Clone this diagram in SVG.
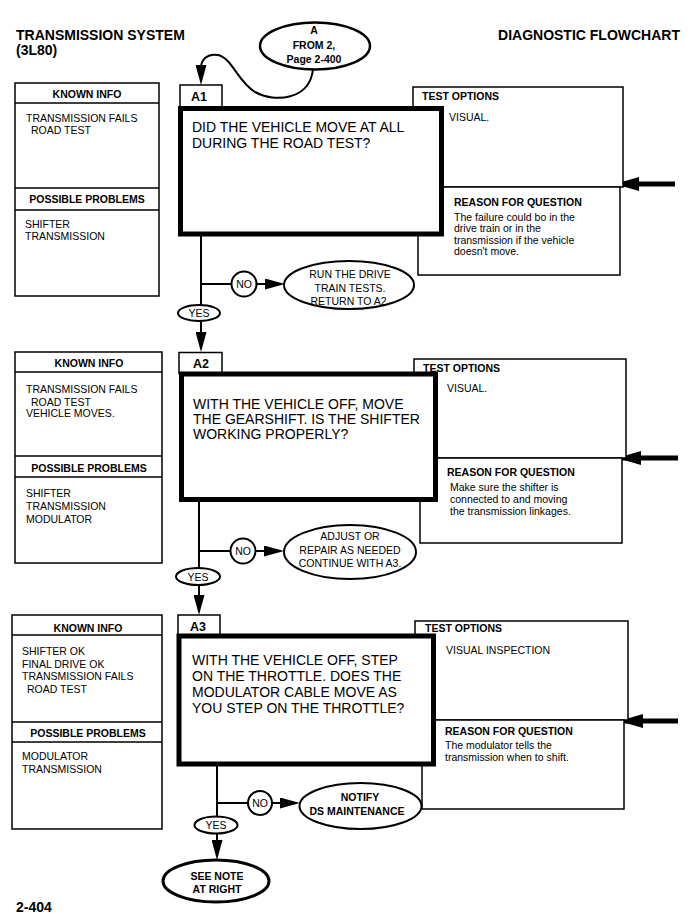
<svg xmlns="http://www.w3.org/2000/svg" width="696" height="916" viewBox="0 0 696 916">
<style>
text{font-family:"Liberation Sans",Arial,Helvetica,sans-serif;font-size:10.5px;fill:#000}
.b{font-weight:bold}
.c{text-anchor:middle}
.h{font-size:14px;font-weight:bold}
.q{font-size:14px}
.tl{font-size:12.5px;font-weight:bold}
.box{fill:#fff;stroke:#000;stroke-width:1.5}
.qbox{fill:#fff;stroke:#000;stroke-width:5}
.ln{fill:none;stroke:#000;stroke-width:2}
.big{fill:none;stroke:#000;stroke-width:5}
.ov{fill:#fff;stroke:#000;stroke-width:2}
.ovt{fill:#fff;stroke:#000;stroke-width:2.5}
</style>
<defs>
<marker id="ah" markerUnits="userSpaceOnUse" markerWidth="20" markerHeight="11" refX="16" refY="5.5" orient="auto">
<path d="M0,0 L20,5.5 L0,11 z" fill="#000"/>
</marker>
<marker id="ahb" markerUnits="userSpaceOnUse" markerWidth="24" markerHeight="14" refX="20" refY="7" orient="auto">
<path d="M0,0 L24,7 L0,14 z" fill="#000"/>
</marker>
</defs>
<rect width="696" height="916" fill="#fff"/>

<g id="header">
<text x="16" y="40" class="h">TRANSMISSION SYSTEM</text>
<text x="16" y="55" class="h">(3L80)</text>
<text x="680" y="40" class="h" text-anchor="end">DIAGNOSTIC FLOWCHART</text>
<text x="16" y="911.5" class="h">2-404</text>
</g>

<g id="connectors">
<path class="ln" d="M313,69 C310,100 275,103 255,92 C238,82 232,58 218,55 C207,53 201,60 201,68 L201,81" marker-end="url(#ah)"/>
<!-- A1 -->
<path class="ln" d="M201,236 L201,348" marker-end="url(#ah)"/>
<path class="ln" d="M201,284 L232,284"/>
<path class="ln" d="M257,284 L281,284" marker-end="url(#ah)"/>
<!-- A2 -->
<path class="ln" d="M199,502 L199,611" marker-end="url(#ah)"/>
<path class="ln" d="M199,551 L231,551"/>
<path class="ln" d="M255,551 L280,551" marker-end="url(#ah)"/>
<!-- A3 -->
<path class="ln" d="M217,766 L217,856" marker-end="url(#ah)"/>
<path class="ln" d="M217,803 L248,803"/>
<path class="ln" d="M272,803 L296,803" marker-end="url(#ah)"/>
<!-- side arrows -->
<path class="big" d="M675,184 L619,184" marker-end="url(#ahb)"/>
<path class="big" d="M678,458 L621,458" marker-end="url(#ahb)"/>
<path class="big" d="M678,721 L623,721" marker-end="url(#ahb)"/>
<!-- labels -->
<ellipse class="ov" cx="244" cy="284" rx="12.5" ry="12.5"/>
<text x="244" y="288" class="c">NO</text>
<ellipse class="ov" cx="199" cy="313" rx="21" ry="8"/>
<text x="199" y="317" class="c">YES</text>
<ellipse class="ov" cx="243" cy="551" rx="12.5" ry="12.5"/>
<text x="243" y="555" class="c">NO</text>
<ellipse class="ov" cx="198" cy="576.5" rx="22" ry="8.5"/>
<text x="198" y="580.5" class="c">YES</text>
<ellipse class="ov" cx="260" cy="803" rx="12" ry="12"/>
<text x="260" y="807" class="c">NO</text>
<ellipse class="ov" cx="216" cy="825" rx="21.5" ry="8.5"/>
<text x="216" y="829" class="c">YES</text>
</g>

<g id="startA">
<ellipse class="ovt" cx="315" cy="46" rx="55" ry="23.5"/>
<text x="314" y="34" class="b c">A</text>
<text x="314" y="48.5" class="b c">FROM 2,</text>
<text x="314" y="63" class="b c">Page 2-400</text>
</g>

<!-- A1 -->
<g id="A1-known">
<rect class="box" x="15" y="83" width="144" height="213"/>
<path class="ln" style="stroke-width:1.5" d="M15,103 H159 M15,188 H159 M15,210 H159"/>
<text x="87" y="97.5" class="b c">KNOWN INFO</text>
<text x="26" y="121.5">TRANSMISSION FAILS</text>
<text x="31" y="134">ROAD TEST</text>
<text x="87" y="203" class="b c">POSSIBLE PROBLEMS</text>
<text x="25" y="227.5">SHIFTER</text>
<text x="25" y="240">TRANSMISSION</text>
</g>
<g id="A1-side">
<rect class="box" x="413" y="87" width="210" height="100"/>
<rect class="box" x="418" y="187" width="202" height="88"/>
<text x="422" y="100" class="b">TEST OPTIONS</text>
<text x="449" y="120.5">VISUAL.</text>
<text x="454" y="206" class="b">REASON FOR QUESTION</text>
<text x="454" y="220.5">The failure could bo in the</text>
<text x="454" y="232">drive train or in the</text>
<text x="454" y="243.5">transmission if the vehicle</text>
<text x="454" y="255">doesn't move.</text>
</g>
<g id="A1">
<rect class="box" x="180" y="85" width="42" height="23"/>
<text x="191" y="101" class="tl">A1</text>
<rect class="qbox" x="180.5" y="108.5" width="261" height="125.5"/>
<text x="192" y="131.5" class="q">DID THE VEHICLE MOVE AT ALL</text>
<text x="192" y="148" class="q">DURING THE ROAD TEST?</text>
</g>
<g id="A1-no">
<ellipse class="ov" cx="349" cy="285" rx="65" ry="24"/>
<text x="350" y="278" class="c">RUN THE DRIVE</text>
<text x="350" y="291.5" class="c">TRAIN TESTS.</text>
<text x="350" y="304.5" class="c">RETURN TO A2.</text>
</g>

<!-- A2 -->
<g id="A2-known">
<rect class="box" x="15" y="352" width="147" height="211"/>
<path class="ln" style="stroke-width:1.5" d="M15,372 H162 M15,456 H162 M15,477 H162"/>
<text x="89" y="367" class="b c">KNOWN INFO</text>
<text x="26" y="392.5">TRANSMISSION FAILS</text>
<text x="31" y="405.5">ROAD TEST</text>
<text x="26" y="416.5">VEHICLE MOVES.</text>
<text x="89" y="471.5" class="b c">POSSIBLE PROBLEMS</text>
<text x="26" y="496.5">SHIFTER</text>
<text x="26" y="509.5">TRANSMISSION</text>
<text x="26" y="522.5">MODULATOR</text>
</g>
<g id="A2-side">
<rect class="box" x="414" y="359" width="212" height="99"/>
<rect class="box" x="420" y="458" width="202" height="85"/>
<text x="423" y="371.5" class="b">TEST OPTIONS</text>
<text x="447" y="392">VISUAL.</text>
<text x="447" y="475.5" class="b">REASON FOR QUESTION</text>
<text x="450" y="490.5">Make sure the shifter is</text>
<text x="450" y="502.5">connected to and moving</text>
<text x="450" y="515">the transmission linkages.</text>
</g>
<g id="A2">
<rect class="box" x="179" y="352.5" width="43" height="21"/>
<text x="193" y="367.5" class="tl">A2</text>
<rect class="qbox" x="181.5" y="374" width="254" height="125.5"/>
<text x="193" y="409" class="q">WITH THE VEHICLE OFF, MOVE</text>
<text x="193" y="424" class="q">THE GEARSHIFT. IS THE SHIFTER</text>
<text x="193" y="438.5" class="q">WORKING PROPERLY?</text>
</g>
<g id="A2-no">
<ellipse class="ov" cx="350" cy="552" rx="66" ry="27"/>
<text x="350" y="540" class="c">ADJUST OR</text>
<text x="350" y="553.5" class="c">REPAIR AS NEEDED</text>
<text x="350" y="566.5" class="c">CONTINUE WITH A3.</text>
</g>

<!-- A3 -->
<g id="A3-known">
<rect class="box" x="12" y="615" width="150" height="214"/>
<path class="ln" style="stroke-width:1.5" d="M12,635 H162 M12,722 H162 M12,742 H162"/>
<text x="88" y="631.5" class="b c">KNOWN INFO</text>
<text x="22" y="655">SHIFTER OK</text>
<text x="22" y="667.5">FINAL DRIVE OK</text>
<text x="22" y="680">TRANSMISSION FAILS</text>
<text x="27" y="693">ROAD TEST</text>
<text x="88" y="736.5" class="b c">POSSIBLE PROBLEMS</text>
<text x="22" y="759.5">MODULATOR</text>
<text x="22" y="772.5">TRANSMISSION</text>
</g>
<g id="A3-side">
<rect class="box" x="415" y="621" width="213" height="99"/>
<rect class="box" x="422" y="720" width="202" height="89"/>
<text x="425" y="632" class="b">TEST OPTIONS</text>
<text x="446" y="654">VISUAL INSPECTION</text>
<text x="445" y="735" class="b">REASON FOR QUESTION</text>
<text x="445" y="749">The modulator tells the</text>
<text x="445" y="761">transmission when to shift.</text>
</g>
<g id="A3">
<rect class="box" x="178" y="615" width="42" height="21"/>
<text x="190" y="631" class="tl">A3</text>
<rect class="qbox" x="179" y="636" width="254.5" height="128"/>
<text x="192" y="665" class="q">WITH THE VEHICLE OFF, STEP</text>
<text x="192" y="681" class="q">ON THE THROTTLE. DOES THE</text>
<text x="192" y="697" class="q">MODULATOR CABLE MOVE AS</text>
<text x="192" y="712.5" class="q">YOU STEP ON THE THROTTLE?</text>
</g>
<g id="A3-no">
<ellipse class="ov" cx="360.5" cy="806" rx="61" ry="23"/>
<text x="360" y="800.5" class="b c">NOTIFY</text>
<text x="357" y="815" class="b c">DS MAINTENANCE</text>
</g>
<g id="A3-yes">
<ellipse class="ov" style="stroke-width:3" cx="216" cy="881" rx="53" ry="21"/>
<text x="217" y="880" class="b c">SEE NOTE</text>
<text x="217" y="892.5" class="b c">AT RIGHT</text>
</g>
</svg>
